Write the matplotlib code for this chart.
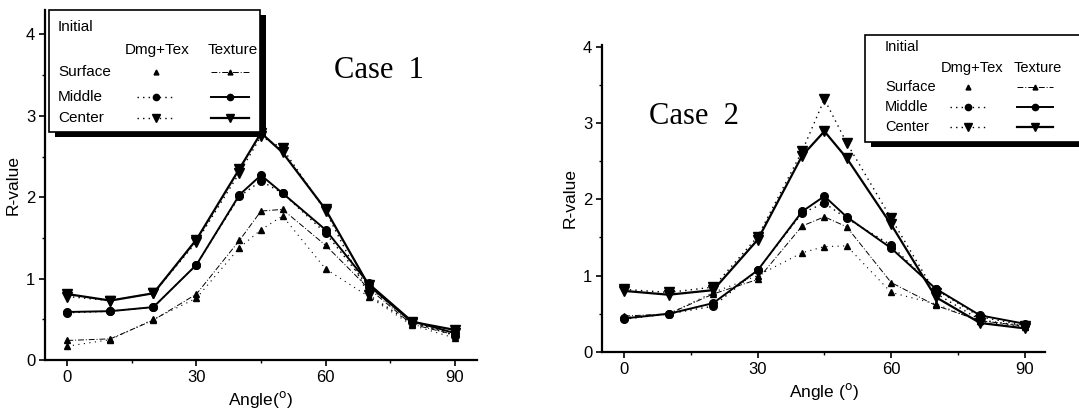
import matplotlib
matplotlib.use("Agg")
import matplotlib.pyplot as plt
from matplotlib.patches import Rectangle
from matplotlib.lines import Line2D
from matplotlib.ticker import MultipleLocator

angles = [0, 10, 20, 30, 40, 45, 50, 60, 70, 80, 90]

# Case 1
c1_surface_tex = [0.24, 0.26, 0.49, 0.81, 1.47, 1.83, 1.85, 1.41, 0.88, 0.44, 0.31]
c1_surface_dmg = [0.17, 0.25, 0.50, 0.76, 1.38, 1.60, 1.77, 1.12, 0.78, 0.43, 0.27]
c1_middle_tex = [0.59, 0.60, 0.65, 1.17, 2.03, 2.27, 2.05, 1.60, 0.94, 0.48, 0.33]
c1_middle_dmg = [0.58, 0.60, 0.65, 1.17, 2.01, 2.20, 2.05, 1.56, 0.90, 0.47, 0.30]
c1_center_tex = [0.81, 0.73, 0.82, 1.48, 2.35, 2.79, 2.55, 1.85, 0.92, 0.47, 0.37]
c1_center_dmg = [0.78, 0.73, 0.82, 1.45, 2.30, 2.75, 2.60, 1.83, 0.80, 0.45, 0.33]

# Case 2
c2_surface_tex = [0.47, 0.50, 0.76, 0.95, 1.65, 1.77, 1.64, 0.91, 0.61, 0.41, 0.34]
c2_surface_dmg = [0.45, 0.50, 0.78, 1.00, 1.30, 1.38, 1.39, 0.78, 0.63, 0.40, 0.33]
c2_middle_tex = [0.44, 0.50, 0.64, 1.07, 1.84, 2.04, 1.77, 1.36, 0.83, 0.48, 0.37]
c2_middle_dmg = [0.43, 0.50, 0.60, 1.07, 1.82, 1.95, 1.75, 1.40, 0.82, 0.46, 0.35]
c2_center_tex = [0.80, 0.75, 0.81, 1.47, 2.57, 2.89, 2.54, 1.67, 0.72, 0.38, 0.31]
c2_center_dmg = [0.82, 0.78, 0.85, 1.51, 2.63, 3.31, 2.74, 1.75, 0.77, 0.42, 0.34]

row_labels = ["Surface", "Middle", "Center"]
col_labels = ["Dmg+Tex", "Texture"]

plt.rcParams['font.family'] = ['Liberation Sans', 'DejaVu Sans']

fig = plt.figure(figsize=(10.79, 4.18), dpi=100)

W, H = 1079.0, 418.0

def fx(px):
    return px / W

def fy(py):
    return 1 - py / H

styles = {
    "surface_tex": dict(ls=(0, (6, 2, 1, 2)), lw=0.7, marker="^", ms=4.5),
    "surface_dmg": dict(ls=(0, (1, 4)), lw=0.8, marker="^", ms=4.5),
    "middle_tex": dict(ls="-", lw=1.4, marker="o", ms=5.5),
    "middle_dmg": dict(ls=(0, (1, 3)), lw=1.0, marker="o", ms=5.5),
    "center_tex": dict(ls="-", lw=1.6, marker="v", ms=6.5),
    "center_dmg": dict(ls=(0, (1, 3)), lw=1.0, marker="v", ms=6.5),
}


def setup_axes(ax, xlim, ylim_top, xlabel):
    ax.set_xlim(*xlim)
    ax.set_ylim(0, ylim_top)
    for s in ["top", "right"]:
        ax.spines[s].set_visible(False)
    for s in ["left", "bottom"]:
        ax.spines[s].set_linewidth(1.6)
    ax.xaxis.set_major_locator(MultipleLocator(30))
    ax.xaxis.set_minor_locator(MultipleLocator(15))
    ax.yaxis.set_major_locator(MultipleLocator(1))
    ax.yaxis.set_minor_locator(MultipleLocator(0.5))
    ax.tick_params(which="major", direction="out", length=4, width=1.2,
                   labelsize=12, pad=3)
    ax.tick_params(which="minor", direction="out", length=2.5, width=1.0)
    ax.set_ylabel("R-value", fontsize=12.5, labelpad=4)
    ax.set_xlabel(xlabel, fontsize=12.5, labelpad=3)


def plot_case(ax, st, sd, mt, md, ct, cd):
    data = [("surface_dmg", sd), ("surface_tex", st), ("middle_dmg", md),
            ("middle_tex", mt), ("center_dmg", cd), ("center_tex", ct)]
    for key, vals in data:
        s = styles[key]
        ax.plot(angles, vals, color="black", linestyle=s["ls"], linewidth=s["lw"],
                marker=s["marker"], markersize=s["ms"], markerfacecolor="black",
                markeredgecolor="black")


def draw_legend(box, title_xy, col_x, col_y, sample_x, row_x, row_ys, fs, half):
    x0, y0, x1, y1 = box
    sh = Rectangle((fx(x0 + 6), fy(y1 + 5)), fx(x1 - x0), (y1 - y0) / H,
                   transform=fig.transFigure, facecolor="black", edgecolor="none",
                   zorder=10)
    fig.add_artist(sh)
    r = Rectangle((fx(x0), fy(y1)), fx(x1 - x0), (y1 - y0) / H,
                  transform=fig.transFigure, facecolor="white", edgecolor="black",
                  linewidth=1.2, zorder=11)
    fig.add_artist(r)
    fig.text(fx(title_xy[0]), fy(title_xy[1]), "Initial", fontsize=fs,
             va="center", ha="left", zorder=12)
    for cx, lab in zip(col_x, col_labels):
        fig.text(fx(cx), fy(col_y), lab, fontsize=fs, va="center", ha="center",
                 zorder=12)
    keys = [("surface_dmg", "surface_tex"), ("middle_dmg", "middle_tex"),
            ("center_dmg", "center_tex")]
    for ry, lab, (kd, kt) in zip(row_ys, row_labels, keys):
        fig.text(fx(row_x), fy(ry), lab, fontsize=fs, va="center", ha="left",
                 zorder=12)
        for cx, k in zip(sample_x, (kd, kt)):
            s = styles[k]
            if k != "surface_dmg":
                ln = Line2D([fx(cx - half), fx(cx + half)], [fy(ry), fy(ry)],
                            transform=fig.transFigure, color="black",
                            linestyle=s["ls"], linewidth=s["lw"], zorder=12)
                fig.add_artist(ln)
            mk = Line2D([fx(cx)], [fy(ry)], transform=fig.transFigure,
                        color="black", linestyle="none", marker=s["marker"],
                        markersize=s["ms"] - 1, zorder=13)
            fig.add_artist(mk)


# Left axes: x 45..477, y 10..360
ax1 = fig.add_axes([fx(45), fy(360), fx(477 - 45), (360 - 10) / H])
plot_case(ax1, c1_surface_tex, c1_surface_dmg, c1_middle_tex, c1_middle_dmg,
          c1_center_tex, c1_center_dmg)
setup_axes(ax1, (-5.2, 95.2), 4.3, r"Angle($^\mathrm{o}$)")
fig.text(fx(379), fy(71), "Case  1", fontsize=22, family="Liberation Serif",
         ha="center", va="center")

# Right axes: x 602..1045, y 45..352
ax2 = fig.add_axes([fx(602), fy(352), fx(1045 - 602), (352 - 45) / H])
plot_case(ax2, c2_surface_tex, c2_surface_dmg, c2_middle_tex, c2_middle_dmg,
          c2_center_tex, c2_center_dmg)
setup_axes(ax2, (-5.0, 94.6), 4.02, r"Angle ($^\mathrm{o}$)")
fig.text(fx(694), fy(116), "Case  2", fontsize=22, family="Liberation Serif",
         ha="center", va="center")

# Legends
draw_legend((49, 10, 260, 132), (58, 27), (157, 233), 50, (156, 230), 58,
            (72, 97, 118), 11, 19)
draw_legend((865, 35, 1090, 142), (885, 47), (972, 1038), 68, (968, 1035), 885,
            (87, 107, 127), 10.5, 18)

fig.savefig("out.png", dpi=100, facecolor="white")
